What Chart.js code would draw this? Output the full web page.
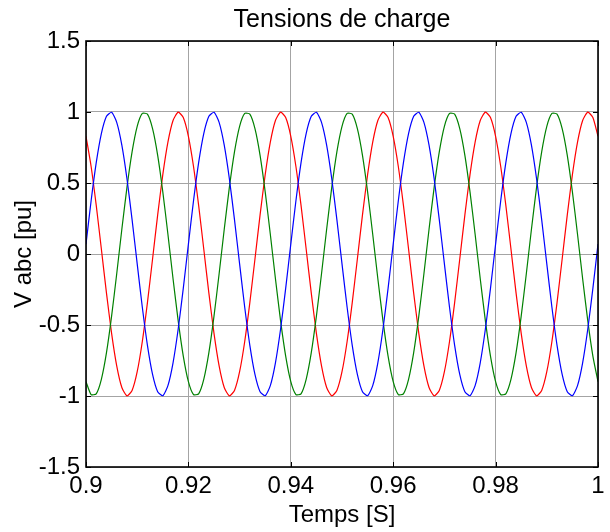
<!DOCTYPE html>
<html>
<head>
<meta charset="utf-8">
<script src="https://cdn.jsdelivr.net/npm/chart.js@4/dist/chart.umd.min.js"></script>
<style>
  html,body{margin:0;padding:0;background:#fff;}
  #wrap{width:610px;height:532px;position:relative;}
</style>
</head>
<body>
<div id="wrap"><canvas id="chart"></canvas></div>
<script>
const TITLE = "Tensions de charge";
const X_LABEL = "Temps [S]";
const Y_LABEL = "V abc [pu]";

const xTicks = [0.9, 0.92, 0.94, 0.96, 0.98, 1];
const yTicks = [-1.5, -1, -0.5, 0, 0.5, 1, 1.5];

const time = [
  0.900,0.901,0.902,0.903,0.904,0.905,0.906,0.907,0.908,0.909,
  0.910,0.911,0.912,0.913,0.914,0.915,0.916,0.917,0.918,0.919,
  0.920,0.921,0.922,0.923,0.924,0.925,0.926,0.927,0.928,0.929,
  0.930,0.931,0.932,0.933,0.934,0.935,0.936,0.937,0.938,0.939,
  0.940,0.941,0.942,0.943,0.944,0.945,0.946,0.947,0.948,0.949,
  0.950,0.951,0.952,0.953,0.954,0.955,0.956,0.957,0.958,0.959,
  0.960,0.961,0.962,0.963,0.964,0.965,0.966,0.967,0.968,0.969,
  0.970,0.971,0.972,0.973,0.974,0.975,0.976,0.977,0.978,0.979,
  0.980,0.981,0.982,0.983,0.984,0.985,0.986,0.987,0.988,0.989,
  0.990,0.991,0.992,0.993,0.994,0.995,0.996,0.997,0.998,0.999,
  1.000
];

const vA = [ // blue
  0.070,0.375,0.643,0.848,0.970,0.998,0.927,0.766,0.530,0.242,-0.070,-0.375,-0.643,-0.848,-0.970,-0.998,-0.927,-0.766,-0.530,-0.242,
  0.070,0.375,0.643,0.848,0.970,0.998,0.927,0.766,0.530,0.242,-0.070,-0.375,-0.643,-0.848,-0.970,-0.998,-0.927,-0.766,-0.530,-0.242,
  0.070,0.375,0.643,0.848,0.970,0.998,0.927,0.766,0.530,0.242,-0.070,-0.375,-0.643,-0.848,-0.970,-0.998,-0.927,-0.766,-0.530,-0.242,
  0.070,0.375,0.643,0.848,0.970,0.998,0.927,0.766,0.530,0.242,-0.070,-0.375,-0.643,-0.848,-0.970,-0.998,-0.927,-0.766,-0.530,-0.242,
  0.070,0.375,0.643,0.848,0.970,0.998,0.927,0.766,0.530,0.242,-0.070,-0.375,-0.643,-0.848,-0.970,-0.998,-0.927,-0.766,-0.530,-0.242,
  0.070
];
const vB = [ // green
  -0.899,-0.990,-0.985,-0.883,-0.695,-0.438,-0.139,0.174,0.469,0.719,0.899,0.990,0.985,0.883,0.695,0.438,0.139,-0.174,-0.469,-0.719,
  -0.899,-0.990,-0.985,-0.883,-0.695,-0.438,-0.139,0.174,0.469,0.719,0.899,0.990,0.985,0.883,0.695,0.438,0.139,-0.174,-0.469,-0.719,
  -0.899,-0.990,-0.985,-0.883,-0.695,-0.438,-0.139,0.174,0.469,0.719,0.899,0.990,0.985,0.883,0.695,0.438,0.139,-0.174,-0.469,-0.719,
  -0.899,-0.990,-0.985,-0.883,-0.695,-0.438,-0.139,0.174,0.469,0.719,0.899,0.990,0.985,0.883,0.695,0.438,0.139,-0.174,-0.469,-0.719,
  -0.899,-0.990,-0.985,-0.883,-0.695,-0.438,-0.139,0.174,0.469,0.719,0.899,0.990,0.985,0.883,0.695,0.438,0.139,-0.174,-0.469,-0.719,
  -0.899
];
const vC = [ // red
  0.829,0.616,0.342,0.035,-0.276,-0.559,-0.788,-0.940,-0.999,-0.961,-0.829,-0.616,-0.342,-0.035,0.276,0.559,0.788,0.940,0.999,0.961,
  0.829,0.616,0.342,0.035,-0.276,-0.559,-0.788,-0.940,-0.999,-0.961,-0.829,-0.616,-0.342,-0.035,0.276,0.559,0.788,0.940,0.999,0.961,
  0.829,0.616,0.342,0.035,-0.276,-0.559,-0.788,-0.940,-0.999,-0.961,-0.829,-0.616,-0.342,-0.035,0.276,0.559,0.788,0.940,0.999,0.961,
  0.829,0.616,0.342,0.035,-0.276,-0.559,-0.788,-0.940,-0.999,-0.961,-0.829,-0.616,-0.342,-0.035,0.276,0.559,0.788,0.940,0.999,0.961,
  0.829,0.616,0.342,0.035,-0.276,-0.559,-0.788,-0.940,-0.999,-0.961,-0.829,-0.616,-0.342,-0.035,0.276,0.559,0.788,0.940,0.999,0.961,
  0.829
];

const FONT = "'Liberation Sans', Arial, sans-serif";

// black box round the plot + small inward tick marks, matlab style
const axesBox = {
  id: "axesBox",
  afterDraw(c){
    const {ctx, chartArea:a, scales:{x, y}} = c;
    ctx.save();
    ctx.strokeStyle = "#000";
    ctx.lineWidth = 1;
    ctx.beginPath();
    xTicks.forEach(v=>{
      const px = Math.round(x.getPixelForValue(v)) + 0.5;
      ctx.moveTo(px, a.bottom); ctx.lineTo(px, a.bottom - 5);
      ctx.moveTo(px, a.top); ctx.lineTo(px, a.top + 5);
    });
    yTicks.forEach(v=>{
      const py = Math.round(y.getPixelForValue(v)) + 0.5;
      ctx.moveTo(a.left, py); ctx.lineTo(a.left + 5, py);
      ctx.moveTo(a.right, py); ctx.lineTo(a.right - 5, py);
    });
    ctx.stroke();
    ctx.lineWidth = 1.6;
    ctx.strokeRect(a.left, a.top, a.right - a.left, a.bottom - a.top);
    ctx.restore();
  }
};

const line = (data, color) => ({
  data, borderColor: color, borderWidth: 1.2, pointRadius: 0, tension: 0.2, fill: false
});

new Chart(document.getElementById("chart"), {
  type: "line",
  data: {
    labels: time,
    datasets: [line(vA, "#0000ff"), line(vB, "#008000"), line(vC, "#ff0000")]
  },
  options: {
    responsive: true,
    maintainAspectRatio: false,
    animation: false,
    layout: {padding: {left: 0, right: 12, top: 0, bottom: 0}},
    plugins: {
      legend: {display: false},
      tooltip: {enabled: false},
      title: {
        display: true, text: TITLE, color: "#000", fullSize: false,
        font: {family: FONT, size: 25, weight: "normal"},
        padding: {top: 5.3, bottom: 5.7}
      }
    },
    scales: {
      x: {
        type: "linear", min: 0.9, max: 1,
        afterBuildTicks: s => { s.ticks = xTicks.map(v => ({value: v})); },
        afterFit: s => { s.height = 65; },
        ticks: {color: "#000", font: {family: FONT, size: 24}, padding: 5, maxRotation: 0,
          callback: v => String(v)},
        grid: {color: "#a4a4a4", lineWidth: 1, drawTicks: false},
        border: {display: false},
        title: {display: true, text: X_LABEL, color: "#000",
          font: {family: FONT, size: 24}, padding: {top: 0, bottom: 2}}
      },
      y: {
        min: -1.5, max: 1.5,
        afterBuildTicks: s => { s.ticks = yTicks.map(v => ({value: v})); },
        afterFit: s => { s.width = 86; },
        ticks: {color: "#000", font: {family: FONT, size: 24}, padding: 6,
          callback: v => String(v)},
        grid: {color: "#a4a4a4", lineWidth: 1, drawTicks: false},
        border: {display: false},
        title: {display: true, text: Y_LABEL, color: "#000",
          font: {family: FONT, size: 24}, padding: {top: 10, bottom: 0}}
      }
    }
  },
  plugins: [axesBox]
});
</script>
</body>
</html>
